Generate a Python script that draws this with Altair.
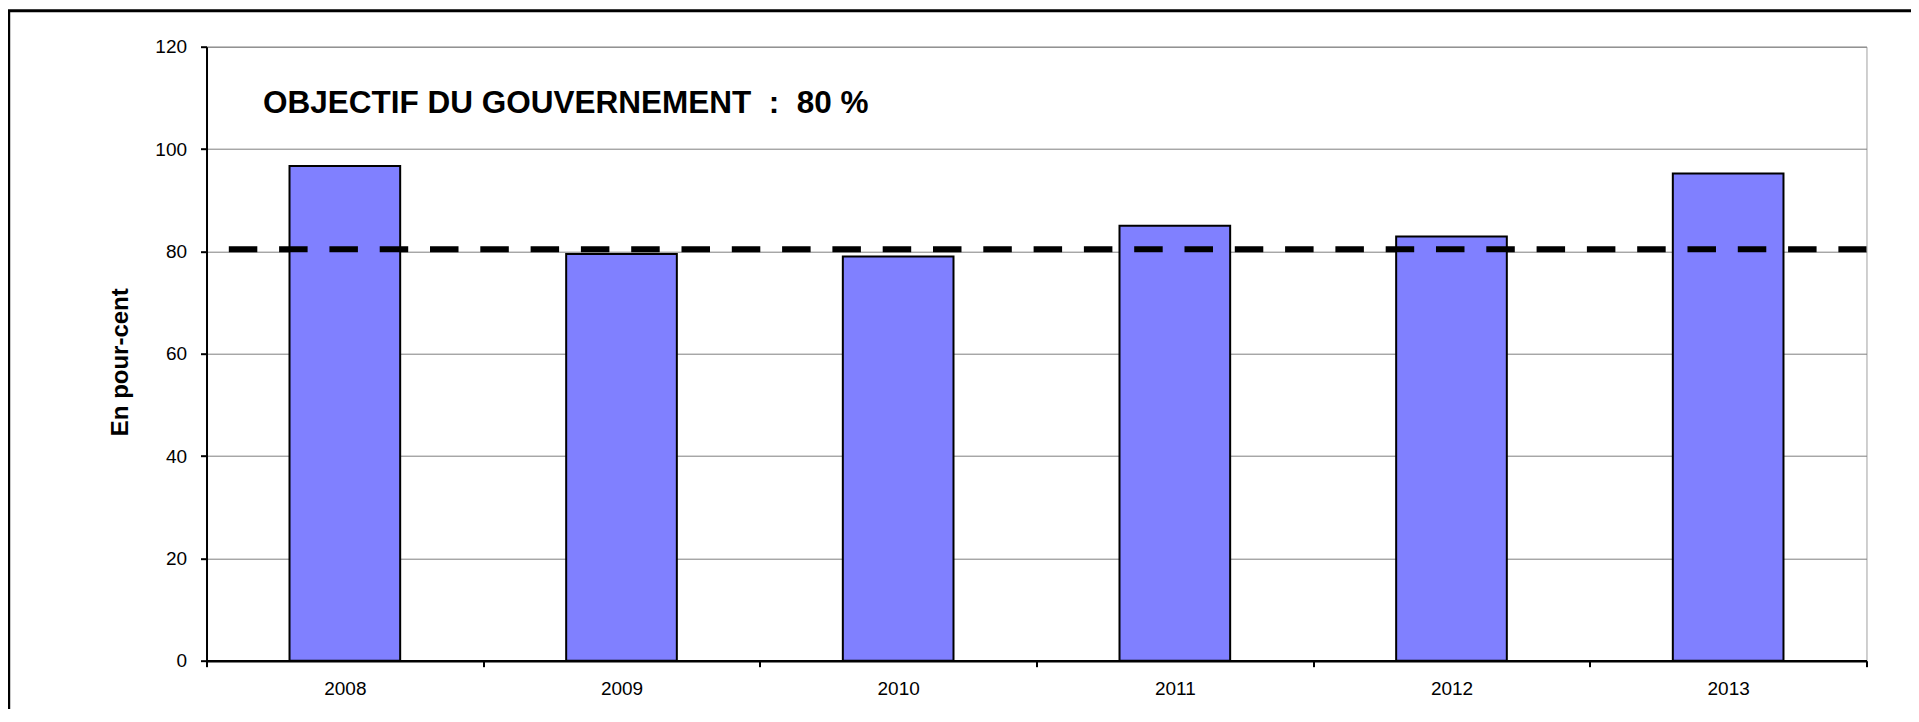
import altair as alt
import pandas as pd

# Data
years = ["2008", "2009", "2010", "2011", "2012", "2013"]
values = [96.7, 79.5, 79.0, 85.0, 82.9, 95.2]
objective = [80.4]
y_ticks = [0, 20, 40, 60, 80, 100, 120]
annotation = "OBJECTIF DU GOUVERNEMENT\u00a0\u00a0:\u00a0\u00a080 %"
y_title = "En pour-cent"

FONT = "Liberation Sans"
PLOT_W, PLOT_H = 1660, 614

bars_df = pd.DataFrame({"year": years, "value": values})
obj_df = pd.DataFrame({"value": objective})
one_df = pd.DataFrame({"k": [0]})

x_enc = alt.X(
    "year:N",
    scale=alt.Scale(paddingInner=0, paddingOuter=0),
    axis=alt.Axis(
        title=None, labelAngle=0, tickBand="extent", grid=False,
        domainColor="black", domainWidth=2.5, tickColor="black", tickWidth=2,
        tickSize=6, labelPadding=13, labelFontSize=19, labelFont=FONT,
        labelColor="black",
    ),
)
y_enc = alt.Y(
    "value:Q",
    scale=alt.Scale(domain=[0, 120], nice=False, zero=True),
    axis=alt.Axis(
        values=y_ticks, title=y_title, grid=True, gridColor="#808080", gridWidth=1,
        domainColor="black", domainWidth=2, tickColor="black", tickWidth=2,
        tickSize=6, labelPadding=14, labelFontSize=19, labelFont=FONT,
        labelColor="black", titleFont=FONT, titleFontSize=24, titleFontWeight="bold",
        titleColor="black", titleX=-79, titleY=315, titleAngle=270,
        titleAlign="center", titleBaseline="alphabetic",
    ),
)

border = alt.Chart(one_df).mark_rect(
    filled=False, stroke="black", strokeWidth=3
).encode(
    x=alt.value(-197.8), x2=alt.value(1800), y=alt.value(-36), y2=alt.value(760)
)

bars = alt.Chart(bars_df).mark_bar(
    color="#8080FF", stroke="black", strokeWidth=2,
    width=alt.RelativeBandSize(0.4),
).encode(x=x_enc, y=y_enc)

rule = alt.Chart(obj_df).mark_rule(
    color="black", strokeWidth=6, strokeDash=[28.5, 21.8], strokeDashOffset=28
).encode(
    y=alt.Y("value:Q"), x=alt.value(0), x2=alt.value(PLOT_W)
)

label = alt.Chart(one_df).mark_text(
    text=annotation, font=FONT, fontSize=31.5, fontWeight="bold",
    align="left", baseline="alphabetic", color="black",
).encode(x=alt.value(56.6), y=alt.value(66.6))

chart = alt.layer(border, bars, rule, label).properties(
    width=PLOT_W, height=PLOT_H,
    autosize=alt.AutoSizeParams(type="none"),
    padding={"left": 198.5, "top": 38.7, "right": 44, "bottom": 48},
    background="white",
).configure_view(stroke="#a0a0a0", strokeWidth=1)

chart.save("out.html", embed_options={"renderer": "svg", "actions": False})
